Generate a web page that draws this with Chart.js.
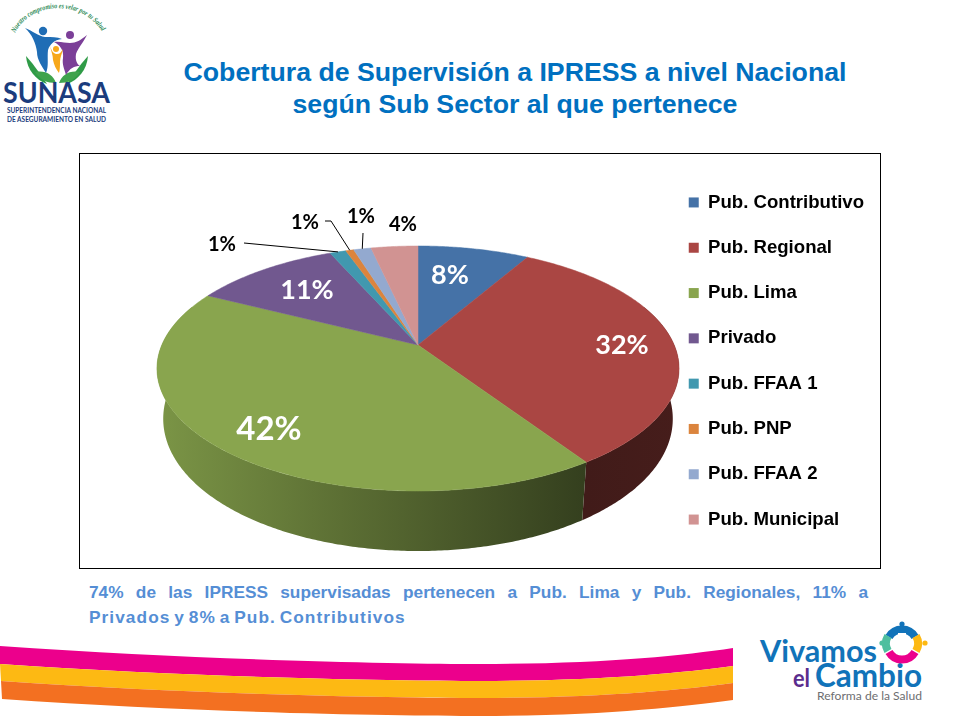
<!DOCTYPE html>
<html lang="es">
<head>
  <meta charset="UTF-8">
  <title>Cobertura de Supervisión a IPRESS</title>
  <style>
    html, body { margin: 0; padding: 0; background: #fff; }
    body { width: 960px; height: 720px; position: relative; overflow: hidden; font-family: "Liberation Sans", Arial, sans-serif; }
    #art { position: absolute; left: 0; top: 0; }
    #title {
      position: absolute; left: 65px; top: 56px; width: 900px; margin: 0;
      text-align: center; color: #0070C0; font-size: 26.7px; font-weight: bold; line-height: 32px;
    }
    #frame { position: absolute; left: 79px; top: 153px; width: 800px; height: 414px; border: 1px solid #000; }
    #chart { position: absolute; left: 80px; top: 154px; }
    #note {
      position: absolute; left: 89px; top: 580px; width: 779px; margin: 0;
      color: #558ED5; font-size: 17.3px; font-weight: bold; line-height: 25px;
    }
    #note span { display: block; white-space: nowrap; }
    #note .full { white-space: normal; text-align: justify; text-align-last: justify; }
    #note .rest { word-spacing: -2px; letter-spacing: 1.05px; }
  </style>
</head>
<body>
  <svg id="art" width="960" height="720" viewBox="0 0 960 720">
    <!-- franjas inferiores -->
    <path fill="#EC008C" d="M0 646C200 660 400 664 480 664C600 664 680 656 733 648V666C680 673 600 681 480 681C400 681 200 678 0 664Z"/>
    <path fill="#FDB913" d="M0 664C200 678 400 681 480 681C600 681 680 673 733 666V683C680 690 600 698 480 698C400 698 200 695 1 681Z"/>
    <path fill="#F37021" d="M1 681C200 695 400 698 480 698C600 698 680 690 733 683V700C680 707 600 716 480 716C400 716 200 713 2 699Z"/>

    <!-- logo SUNASA -->
    <path id="arco" fill="none" d="M15 33C30 2 82 -2 103 33"/>
    <text font-family="Liberation Serif" font-style="italic" font-weight="bold" font-size="7.5" fill="#2E8B57"><textPath href="#arco" textLength="104" lengthAdjust="spacingAndGlyphs">Nuestro compromiso es velar por tu Salud</textPath></text>
    <path fill="#2F9B47" d="M26 56C27 70 36 80 47 84C41 75 35 66 26 56Z"/>
    <path fill="#2F9B47" d="M88 56C87 70 78 80 67 84C73 75 79 66 88 56Z"/>
    <path fill="#3FA34D" d="M35 72C46 70 53 75 56 83C47 83 40 80 35 72Z"/>
    <path fill="#3FA34D" d="M80 72C69 70 62 75 59 83C68 83 75 80 80 72Z"/>
    <circle cx="43" cy="31" r="4.2" fill="#1F6DB5"/>
    <path fill="#1F6DB5" d="M25 28C33 31 38 36 45 37C52 37 57 37 62 39C54 40 50 44 48 50C47 58 49 66 46 73C42 66 37 60 37 52C36 44 32 34 25 28Z"/>
    <circle cx="70" cy="35" r="4" fill="#7B3F98"/>
    <path fill="#7B3F98" d="M54 42C60 41 65 43 70 43C76 43 81 40 87 35C83 43 78 48 76 54C75 60 77 64 80 66C74 66 70 68 66 75C64 68 62 64 63 58C64 50 60 45 54 42Z"/>
    <circle cx="56" cy="49" r="3" fill="#F7A81B"/>
    <path fill="#F7A81B" d="M50 46C52 52 54 54 57 54C60 54 61 52 63 49C62 54 60 57 60 62C60 66 60 69 59 73C56 69 54 65 53 60C53 55 51 51 50 46Z"/>
    <text x="3" y="103" font-family="Lato" font-weight="bold" font-size="29" fill="#1B3C7D" textLength="107" lengthAdjust="spacingAndGlyphs">SUNASA</text>
    <text x="7" y="113" font-family="Lato" font-weight="bold" font-size="7.6" fill="#1B3C7D" textLength="99" lengthAdjust="spacingAndGlyphs">SUPERINTENDENCIA NACIONAL</text>
    <text x="7" y="122" font-family="Lato" font-weight="bold" font-size="7.6" fill="#1B3C7D" textLength="99" lengthAdjust="spacingAndGlyphs">DE ASEGURAMIENTO EN SALUD</text>

    <!-- logo Vivamos el Cambio -->
    <text x="760" y="662" font-family="Lato" font-weight="bold" font-size="31" fill="#1173B9" textLength="117" lengthAdjust="spacingAndGlyphs">Vivamos</text>
    <text x="793" y="687" font-family="Lato" font-weight="bold" font-size="24" fill="#5B2C8D" textLength="17" lengthAdjust="spacingAndGlyphs">el</text>
    <text x="815" y="687" font-family="Lato" font-weight="bold" font-size="33" fill="#1173B9" textLength="107" lengthAdjust="spacingAndGlyphs">Cambio</text>
    <text x="817" y="700" font-family="Lato" font-size="11" fill="#6D6E71" textLength="105" lengthAdjust="spacingAndGlyphs">Reforma de la Salud</text>
    <g fill="none" stroke-width="8">
      <path stroke="#1173B9" d="M889 637A15 15 0 0 1 915 637"/>
      <path stroke="#FDB913" d="M916 636A15 15 0 0 1 916 651"/>
      <path stroke="#EC008C" d="M915 652A15 15 0 0 1 889 652"/>
      <path stroke="#4FBF9F" d="M888 651A15 15 0 0 1 888 636"/>
    </g>
    <path fill="#fff" d="M898 633h8v7h7v8h-7v7h-8v-7h-7v-8h7z"/>
    <circle cx="902" cy="624" r="2.6" fill="#1173B9"/>
    <circle cx="925" cy="643" r="2.6" fill="#FDB913"/>
    <circle cx="882" cy="643" r="2.6" fill="#4FBF9F"/>
  </svg>

  <h1 id="title">Cobertura de Supervisión a IPRESS a nivel Nacional<br>según Sub Sector al que pertenece</h1>
  <div id="frame"></div>
  <canvas id="chart" width="794" height="414"></canvas>
  <p id="note"><span class="full">74% de las IPRESS supervisadas pertenecen a Pub. Lima y Pub. Regionales, 11% a</span><span class="rest">Privados y 8% a Pub. Contributivos</span></p>

  <script src="https://cdn.jsdelivr.net/npm/chart.js"></script>
  <script>
    const categories = ['Pub. Contributivo', 'Pub. Regional', 'Pub. Lima', 'Privado', 'Pub. FFAA 1', 'Pub. PNP', 'Pub. FFAA 2', 'Pub. Municipal'];
    const shares = [8.3, 32.4, 41.8, 10.9, 1.2, 0.6, 1.3, 3.5];
    const sliceColors = ['#4572A7', '#AA4643', '#89A54E', '#71588F', '#4198AF', '#DB843D', '#93A9CF', '#D19392'];

    // etiqueta de cada sector: centro del texto en el canvas, tamano y color
    const labelSpots = [
      { x: 370, y: 121, size: 27, color: '#fff' },
      { x: 542, y: 191, size: 27, color: '#fff' },
      { x: 189, y: 275, size: 33, color: '#fff' },
      { x: 227, y: 136, size: 27, color: '#fff' },
      { x: 142, y: 91, size: 20, color: '#000', lead: [[164, 89]] },
      { x: 225, y: 69, size: 20, color: '#000', lead: [[245, 67], [251, 67]] },
      { x: 281, y: 63, size: 20, color: '#000', lead: [[283, 79]] },
      { x: 323, y: 71, size: 20, color: '#000' }
    ];

    // pastel 3D en perspectiva: cara superior y pared
    const pie = { x: 338, y: 191, a: 256.2, b: 118, k: -0.1918, shrink: 0.976, depth: 48, depthFront: 12 };

    function topPoint(angle) {
      const u = Math.cos(angle), v = Math.sin(angle), w = 1 + pie.k * v;
      return [pie.x + pie.a * u / w, pie.y + pie.b * v / w];
    }
    function bottomPoint(angle) {
      const p = topPoint(angle);
      return [pie.x + (p[0] - pie.x) * pie.shrink, p[1] + pie.depth + pie.depthFront * Math.sin(angle)];
    }
    function anglesBetween(from, to) {
      const list = [], n = Math.max(2, Math.ceil((to - from) / 0.01));
      for (let i = 0; i <= n; i++) list.push(from + (to - from) * i / n);
      return list;
    }
    function shade(hex, f) {
      const n = parseInt(hex.slice(1), 16);
      return `rgb(${Math.round((n >> 16) * f)},${Math.round(((n >> 8) & 255) * f)},${Math.round((n & 255) * f)})`;
    }

    const pie3d = {
      id: 'pie3d',
      beforeDatasetsDraw(chart) {
        const ctx = chart.ctx;
        const arcs = chart.getDatasetMeta(0).data;
        ctx.save();

        // pared
        arcs.forEach((arc, i) => {
          const from = Math.max(arc.startAngle, -0.35), to = Math.min(arc.endAngle, Math.PI + 0.35);
          if (to <= from) return;
          const grad = ctx.createLinearGradient(78, 0, 600, 0);
          grad.addColorStop(0, shade(sliceColors[i], 0.9));
          grad.addColorStop(0.35, shade(sliceColors[i], 0.67));
          grad.addColorStop(0.82, shade(sliceColors[i], 0.38));
          grad.addColorStop(1, shade(sliceColors[i], 0.41));
          ctx.beginPath();
          anglesBetween(from, to).forEach(a => ctx.lineTo(...topPoint(a)));
          anglesBetween(from, to).reverse().forEach(a => ctx.lineTo(...bottomPoint(a)));
          ctx.closePath();
          ctx.fillStyle = grad;
          ctx.fill();
        });

        // cara superior
        arcs.forEach((arc, i) => {
          ctx.beginPath();
          ctx.moveTo(pie.x, pie.y);
          anglesBetween(arc.startAngle, arc.endAngle).forEach(a => ctx.lineTo(...topPoint(a)));
          ctx.closePath();
          ctx.fillStyle = sliceColors[i];
          ctx.strokeStyle = sliceColors[i];
          ctx.lineWidth = 0.5;
          ctx.fill();
          ctx.stroke();
        });

        // etiquetas y lineas guia
        ctx.textAlign = 'center';
        ctx.textBaseline = 'middle';
        arcs.forEach((arc, i) => {
          const spot = labelSpots[i];
          if (spot.lead) {
            ctx.beginPath();
            spot.lead.forEach(p => ctx.lineTo(p[0], p[1]));
            ctx.lineTo(...topPoint((arc.startAngle + arc.endAngle) / 2));
            ctx.strokeStyle = '#000';
            ctx.lineWidth = 1;
            ctx.stroke();
          }
          ctx.font = `bold ${spot.size}px Lato`;
          ctx.fillStyle = spot.color;
          ctx.fillText(Math.round(shares[i]) + '%', spot.x, spot.y);
        });

        ctx.restore();
        return false;
      }
    };

    new Chart(document.getElementById('chart'), {
      type: 'pie',
      data: {
        labels: categories,
        datasets: [{ data: shares, backgroundColor: sliceColors, borderWidth: 0 }]
      },
      options: {
        responsive: false,
        animation: false,
        plugins: {
          tooltip: { enabled: false },
          legend: {
            position: 'right',
            labels: {
              boxWidth: 10,
              boxHeight: 10,
              padding: 26.7,
              color: '#000',
              font: { family: 'Liberation Sans', size: 18.6, weight: 'bold' }
            }
          }
        }
      },
      plugins: [pie3d]
    });
  </script>
</body>
</html>
